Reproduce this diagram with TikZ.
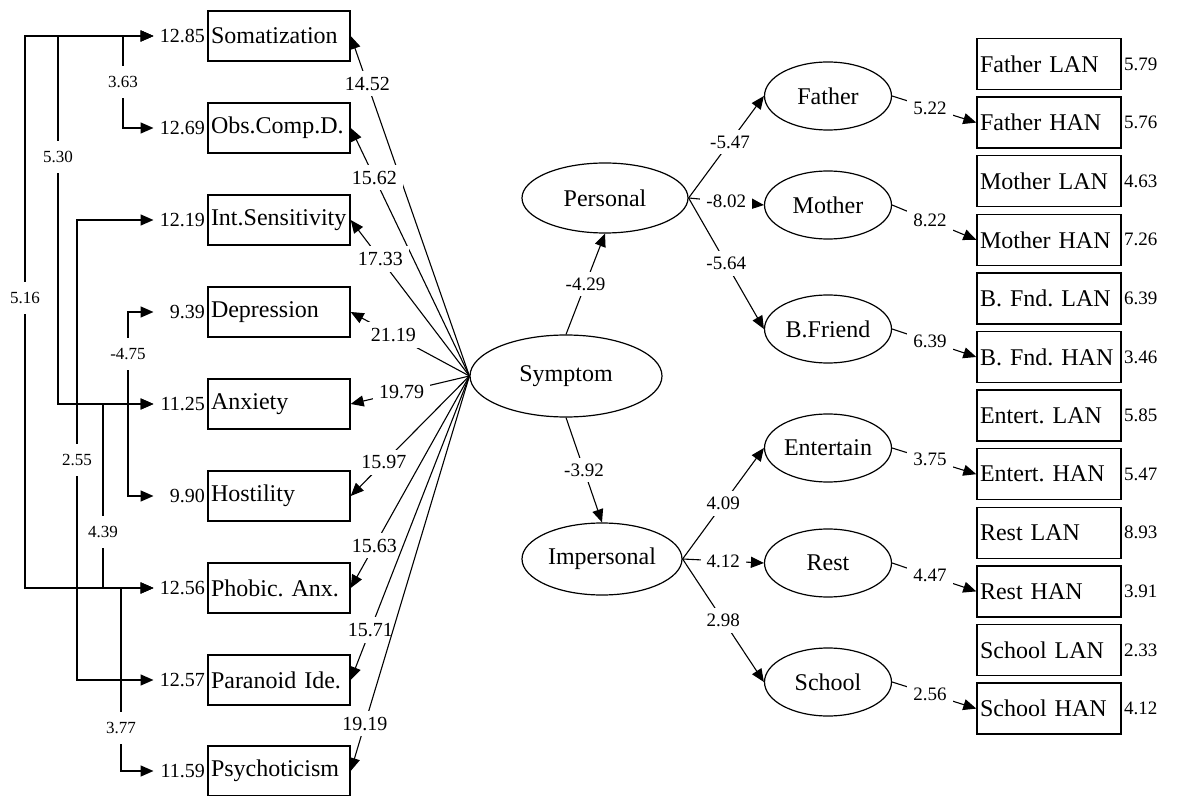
\documentclass[tikz,border=0pt]{standalone}
\usepackage{fontspec}
\setmainfont{Liberation Serif}
\usetikzlibrary{arrows.meta,positioning,shapes.geometric}

\tikzset{
  obs/.style={draw, line width=0.7pt, minimum width=71pt, minimum height=25pt,
    text width=68pt, inner xsep=1.5pt, align=left, font=\fontsize{12}{14}\selectfont\frenchspacing},
  ind/.style={obs, minimum width=72pt, minimum height=25.5pt, text width=69pt},
  lat/.style={draw, ellipse, line width=0.6pt, inner sep=0pt, font=\fontsize{12}{14}\selectfont},
  var/.style={inner xsep=1pt, text width=24.5pt, align=right, font=\fontsize{10}{12}\selectfont},
  rvar/.style={inner xsep=1pt, font=\fontsize{9.5}{11}\selectfont},
  arr/.style={-{Triangle[length=6.5pt,width=5.5pt]}, line width=0.55pt},
  cov/.style={{Triangle[length=6.5pt,width=5.5pt]}-{Triangle[length=6.5pt,width=5.5pt]}, line width=0.75pt},
  lbl/.style={fill=white, inner sep=3pt, font=\fontsize{10}{12}\selectfont},
  slbl/.style={fill=white, inner sep=3pt, font=\fontsize{9.5}{11}\selectfont},
  clbl/.style={fill=white, inner xsep=1pt, inner ysep=5pt, font=\fontsize{8.5}{10}\selectfont},
}

\begin{document}
\begin{tikzpicture}[x=0.5pt, y=-0.5pt]
  \useasboundingbox (0,0) rectangle (1177,796);

  % symptom dimensions
  \node[obs] (soma) at (279,36) {Somatization};
  \node[obs] (obsc) at (279,128) {Obs.Comp.D.};
  \node[obs] (ints) at (279,220) {Int.Sensitivity};
  \node[obs] (depr) at (279,312) {Depression};
  \node[obs] (anx) at (279,404) {Anxiety};
  \node[obs] (host) at (279,496) {Hostility};
  \node[obs] (phob) at (279,588) {Phobic. Anx.};
  \node[obs] (para) at (279,680) {Paranoid Ide.};
  \node[obs] (psyc) at (279,771) {Psychoticism};

  \node[var, left=0pt of soma] (somav) {12.85};
  \node[var, left=0pt of obsc] (obscv) {12.69};
  \node[var, left=0pt of ints] (intsv) {12.19};
  \node[var, left=0pt of depr] (deprv) {9.39};
  \node[var, left=0pt of anx] (anxv) {11.25};
  \node[var, left=0pt of host] (hostv) {9.90};
  \node[var, left=0pt of phob] (phobv) {12.56};
  \node[var, left=0pt of para] (parav) {12.57};
  \node[var, left=0pt of psyc] (psycv) {11.59};

  % covariances
  \draw[cov] (somav.west) -| (123,82) node[clbl] {3.63} |- (obscv.west);
  \draw[cov] (somav.west) -| (58,157) node[clbl] {5.30} |- (anxv.west);
  \draw[cov] (somav.west) -| (25,298) node[clbl] {5.16} |- (phobv.west);
  \draw[cov] (intsv.west) -| (77,460) node[clbl] {2.55} |- (parav.west);
  \draw[cov] (deprv.west) -| (128,354) node[clbl] {-4.75} |- (hostv.west);
  \draw[cov] (anxv.west) -| (103,532) node[clbl] {4.39} |- (phobv.west);
  \draw[cov] (phobv.west) -| (121,728) node[clbl] {3.77} |- (psycv.west);

  % latent factors
  \node[lat, minimum width=96pt, minimum height=41pt] (symptom) at (566,376) {Symptom};
  \node[lat, minimum width=83pt, minimum height=35pt] (personal) at (605,198) {Personal};
  \node[lat, minimum width=80pt, minimum height=36pt] (impersonal) at (602,559) {Impersonal};

  \node[lat, minimum width=63.5pt, minimum height=34pt] (father) at (828,96) {Father};
  \node[lat, minimum width=63.5pt, minimum height=34pt] (mother) at (828,205) {Mother};
  \node[lat, minimum width=63.5pt, minimum height=34pt] (bfriend) at (828,329) {B.Friend};
  \node[lat, minimum width=63.5pt, minimum height=34pt] (entert) at (828,448) {Entertain};
  \node[lat, minimum width=63.5pt, minimum height=34pt] (rest) at (828,563) {Rest};
  \node[lat, minimum width=63.5pt, minimum height=34pt] (school) at (828,682) {School};

  % indicators
  \node[ind] (flan) at (1049,64) {Father LAN};
  \node[ind] (fhan) at (1049,122.6) {Father HAN};
  \node[ind] (mlan) at (1049,181.2) {Mother LAN};
  \node[ind] (mhan) at (1049,239.8) {Mother HAN};
  \node[ind] (blan) at (1049,298.4) {B. Fnd. LAN};
  \node[ind] (bhan) at (1049,357) {B. Fnd. HAN};
  \node[ind] (elan) at (1049,415.6) {Entert. LAN};
  \node[ind] (ehan) at (1049,474.2) {Entert. HAN};
  \node[ind] (rlan) at (1049,532.8) {Rest LAN};
  \node[ind] (rhan) at (1049,591.4) {Rest HAN};
  \node[ind] (slan) at (1049,650) {School LAN};
  \node[ind] (shan) at (1049,708.6) {School HAN};

  \node[rvar, right=0pt of flan] (flanv) {5.79};
  \node[rvar, right=0pt of fhan] (fhanv) {5.76};
  \node[rvar, right=0pt of mlan] (mlanv) {4.63};
  \node[rvar, right=0pt of mhan] (mhanv) {7.26};
  \node[rvar, right=0pt of blan] (blanv) {6.39};
  \node[rvar, right=0pt of bhan] (bhanv) {3.46};
  \node[rvar, right=0pt of elan] (elanv) {5.85};
  \node[rvar, right=0pt of ehan] (ehanv) {5.47};
  \node[rvar, right=0pt of rlan] (rlanv) {8.93};
  \node[rvar, right=0pt of rhan] (rhanv) {3.91};
  \node[rvar, right=0pt of slan] (slanv) {2.33};
  \node[rvar, right=0pt of shan] (shanv) {4.12};

  % loadings of symptom
  \draw[arr] (symptom.west) -- node[lbl, pos=0.86] {14.52} (soma.east);
  \draw[arr] (symptom.west) -- node[lbl, pos=0.80] {15.62} (obsc.east);
  \draw[arr] (symptom.west) -- node[lbl, pos=0.75] {17.33} (ints.east);
  \draw[arr] (symptom.west) -- node[lbl, pos=0.64] {21.19} (depr.east);
  \draw[arr] (symptom.west) -- node[lbl, pos=0.57] {19.79} (anx.east);
  \draw[arr] (symptom.west) -- node[lbl, pos=0.72] {15.97} (host.east);
  \draw[arr] (symptom.west) -- node[lbl, pos=0.80] {15.63} (phob.east);
  \draw[arr] (symptom.west) -- node[lbl, pos=0.835] {15.71} (para.east);
  \draw[arr] (symptom.west) -- node[lbl, pos=0.88] {19.19} (psyc.east);

  % second order paths
  \draw[arr] (symptom.north) -- node[slbl] {-4.29} (personal.south);
  \draw[arr] (symptom.south) -- node[slbl] {-3.92} (impersonal.north);

  \draw[arr] (personal.east) -- node[slbl, pos=0.55] {-5.47} (father.west);
  \draw[arr] (personal.east) -- node[slbl] {-8.02} (mother.west);
  \draw[arr] (personal.east) -- node[slbl] {-5.64} (bfriend.west);
  \draw[arr] (impersonal.east) -- node[slbl] {4.09} (entert.west);
  \draw[arr] (impersonal.east) -- node[slbl] {4.12} (rest.west);
  \draw[arr] (impersonal.east) -- node[slbl] {2.98} (school.west);

  \draw[arr] (father.east) -- node[slbl, pos=0.45] {5.22} (fhan.west);
  \draw[arr] (mother.east) -- node[slbl, pos=0.45] {8.22} (mhan.west);
  \draw[arr] (bfriend.east) -- node[slbl, pos=0.45] {6.39} (bhan.west);
  \draw[arr] (entert.east) -- node[slbl, pos=0.45] {3.75} (ehan.west);
  \draw[arr] (rest.east) -- node[slbl, pos=0.45] {4.47} (rhan.west);
  \draw[arr] (school.east) -- node[slbl, pos=0.45] {2.56} (shan.west);
\end{tikzpicture}
\end{document}
